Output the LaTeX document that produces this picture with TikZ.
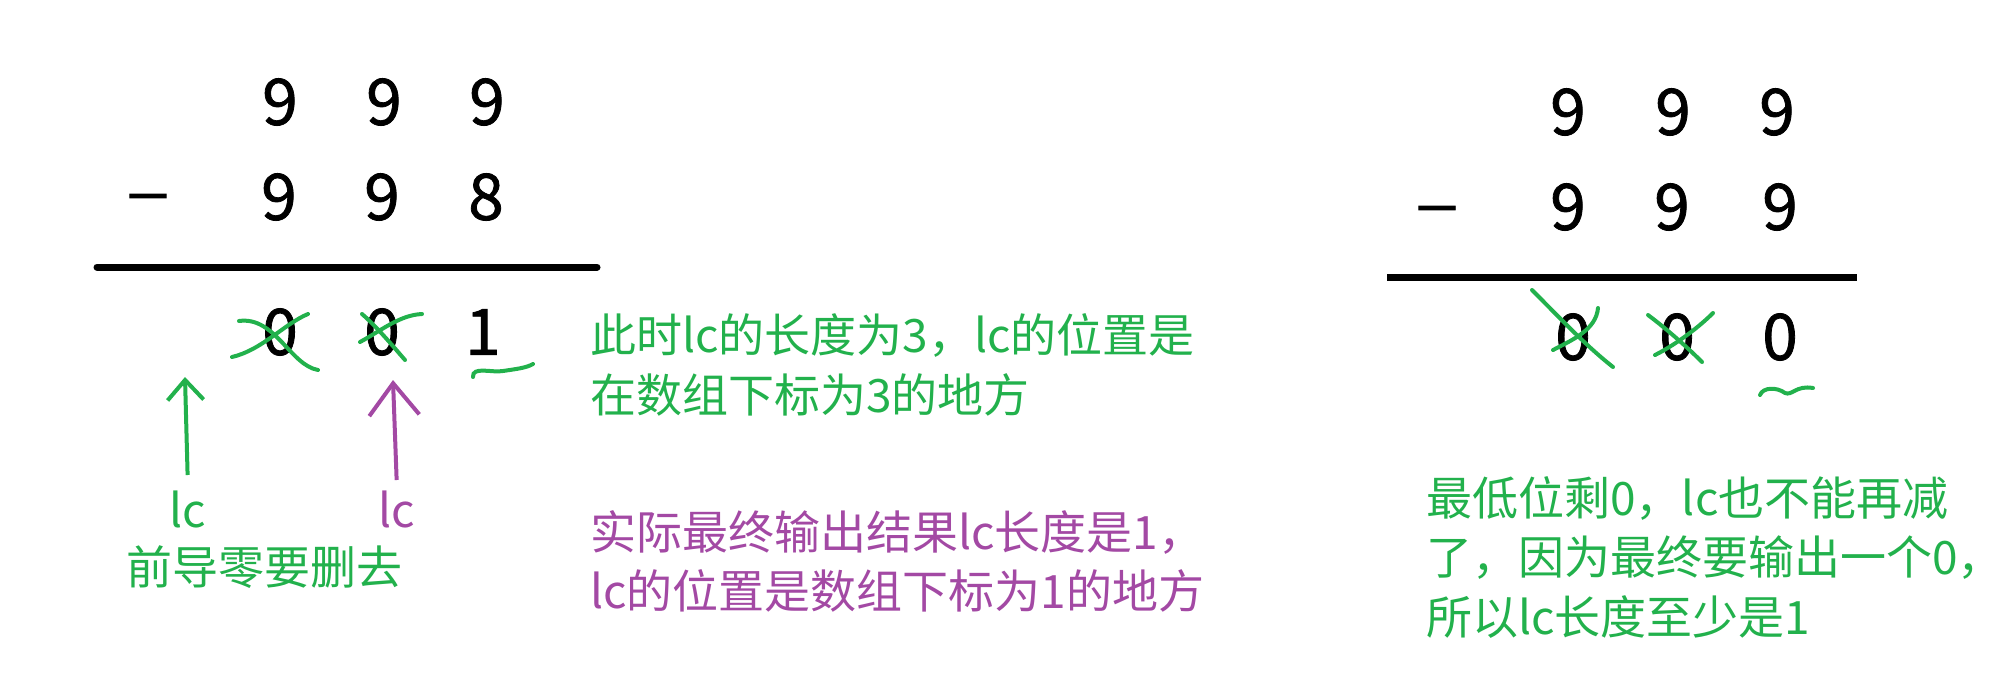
\documentclass[tikz,border=0pt]{standalone}
\usepackage{fontspec}
\usepackage{graphicx}
\newfontfamily\cjk{Noto Sans CJK SC}
\newfontfamily\digitfont[FakeBold=1.2]{Noto Sans CJK SC}
\usetikzlibrary{arrows.meta}
\definecolor{paintgreen}{RGB}{34,177,76}
\definecolor{paintpurple}{RGB}{163,73,164}
\newcommand{\wideminus}{\resizebox{22pt}{\height}{–}}

\begin{document}
\begin{tikzpicture}[x=0.5pt, y=-0.5pt,
    digit/.style={inner sep=0, font=\digitfont\fontsize{32}{32}\selectfont},
    note/.style={inner sep=0, anchor=base west, font=\cjk\fontsize{23}{30}\selectfont},
    lclabel/.style={inner sep=0, anchor=base, font=\cjk\fontsize{23}{30}\selectfont},
    strike/.style={paintgreen, line width=2pt, line cap=round},
    sumrule/.style={line width=3.5pt}]
    \useasboundingbox (0,0) rectangle (2005,676);

    %Left subtraction
    \node[digit] at (280, 102) (la1) {9};
    \node[digit] at (384, 102) (la2) {9};
    \node[digit] at (487, 102) (la3) {9};
    \node[digit] at (148, 204) (lminus) {\wideminus};
    \node[digit] at (279, 197) (lb1) {9};
    \node[digit] at (382, 197) (lb2) {9};
    \node[digit] at (486, 197) (lb3) {8};
    \draw[sumrule, line cap=round] (97, 267) -- (597, 267);
    \node[digit] at (280, 332) (lr1) {0};
    \node[digit] at (382, 332) (lr2) {0};
    \node[digit] at (483, 332) (lr3) {1};

    %Left strokes
    \draw[strike] (232, 357) .. controls (262, 350) and (284, 324) .. (308, 314);
    \draw[strike] (239, 321) .. controls (275, 316) and (290, 365) .. (318, 370);
    \draw[strike] (360, 342) .. controls (382, 330) and (400, 315) .. (422, 314);
    \draw[strike] (362, 314) .. controls (376, 326) and (392, 345) .. (405, 360);
    \draw[strike] (473, 377) .. controls (472, 366) and (492, 373) .. (503, 371)
        .. controls (516, 369) and (526, 368) .. (533, 364);

    %Left pointers
    \node[lclabel, paintgreen] at (188, 527) (lcg) {lc};
    \node[lclabel, paintpurple] at (397, 527) (lcp) {lc};
    \coordinate (lcgtip) at (185, 377);
    \coordinate (lcptip) at (393, 380);
    \draw[paintgreen, line width=2pt, shorten <=7.5pt,
        -{Straight Barb[length=10pt, width=18pt, line width=2pt]}] (lcg.north) -- (lcgtip);
    \draw[paintpurple, line width=2pt, shorten <=5pt,
        -{Straight Barb[length=16pt, width=25pt, line width=2pt]}] (lcp.north) -- (lcptip);
    \node[note, paintgreen] at (126, 584) (lead) {前导零要删去};

    %Left notes
    \node[note, paintgreen] at (590, 352) (gn1) {此时lc的长度为3，lc的位置是};
    \node[note, paintgreen] at (590, 412) (gn2) {在数组下标为3的地方};
    \node[note, paintpurple] at (590, 549) (pn1) {实际最终输出结果lc长度是1，};
    \node[note, paintpurple] at (590, 608) (pn2) {lc的位置是数组下标为1的地方};

    %Right subtraction
    \node[digit] at (1568, 112) (ra1) {9};
    \node[digit] at (1673, 112) (ra2) {9};
    \node[digit] at (1777, 112) (ra3) {9};
    \node[digit] at (1437, 216) (rminus) {\wideminus};
    \node[digit] at (1568, 207) (rb1) {9};
    \node[digit] at (1672, 207) (rb2) {9};
    \node[digit] at (1780, 207) (rb3) {9};
    \draw[sumrule] (1387, 277) -- (1857, 277);
    \node[digit] at (1573, 337) (rr1) {0};
    \node[digit] at (1677, 337) (rr2) {0};
    \node[digit] at (1780, 337) (rr3) {0};

    %Right strokes
    \draw[strike] (1532, 290) .. controls (1560, 318) and (1585, 345) .. (1613, 367);
    \draw[strike] (1553, 350) .. controls (1572, 340) and (1596, 330) .. (1598, 308);
    \draw[strike] (1648, 315) .. controls (1668, 330) and (1688, 348) .. (1702, 362);
    \draw[strike] (1655, 355) .. controls (1675, 345) and (1698, 328) .. (1713, 313);
    \draw[strike] (1760, 395) .. controls (1763, 387) and (1777, 387) .. (1785, 393)
        .. controls (1792, 396) and (1796, 385) .. (1813, 388);

    %Right notes
    \node[note, paintgreen] at (1426, 515) (rn1) {最低位剩0，lc也不能再减};
    \node[note, paintgreen] at (1426, 574) (rn2) {了，因为最终要输出一个0，};
    \node[note, paintgreen] at (1426, 634) (rn3) {所以lc长度至少是1};
\end{tikzpicture}
\end{document}
